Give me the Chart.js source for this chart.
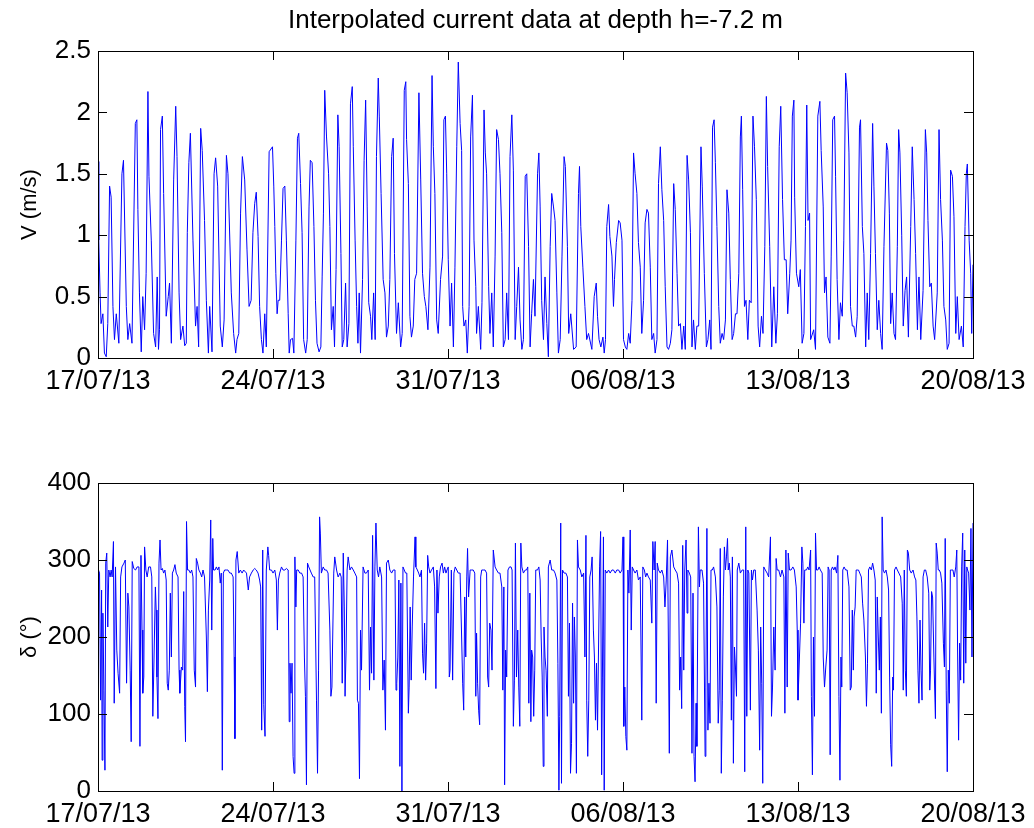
<!DOCTYPE html>
<html>
<head>
<meta charset="utf-8">
<title>Interpolated current data at depth h=-7.2 m</title>
<script src="https://cdn.jsdelivr.net/npm/chart.js@4.4.1/dist/chart.umd.min.js"></script>
<style>
  html, body { margin: 0; padding: 0; background: #fff; }
  #wrap { position: relative; width: 1034px; height: 828px; }
  .box { position: absolute; left: 0; width: 1034px; height: 414px; }
</style>
</head>
<body>
<div id="wrap">
  <div class="box" style="top:0"><canvas id="speedChart"></canvas></div>
  <div class="box" style="top:414px"><canvas id="dirChart"></canvas></div>
</div>
<script>
// days since 17/07/13, tick positions and their date labels
const tickDays = [0, 6.8, 13.6, 20.4, 27.2, 34];
const tickLabels = ["17/07/13", "24/07/13", "31/07/13", "06/08/13", "13/08/13", "20/08/13"];

// current speed V (m/s), [day, value]
const speedSamples = [
  [0.00,1.60],[0.03,0.96],[0.08,0.53],[0.12,0.28],[0.19,0.36],[0.25,0.04],[0.32,0.01],[0.38,0.28],[0.45,1.40],[0.51,1.31],
  [0.58,0.42],[0.64,0.15],[0.71,0.36],[0.81,0.12],[0.93,1.50],[0.99,1.61],[1.10,0.42],[1.16,0.15],[1.23,0.28],[1.32,0.12],
  [1.45,1.91],[1.51,1.94],[1.55,1.21],[1.61,0.53],[1.68,0.05],[1.74,0.50],[1.81,0.23],[1.87,0.69],[1.94,2.17],[1.98,1.48],
  [2.07,0.96],[2.16,0.20],[2.24,0.09],[2.30,0.66],[2.35,0.07],[2.39,0.23],[2.43,1.86],[2.50,1.97],[2.55,1.34],[2.65,0.34],
  [2.73,0.50],[2.78,0.61],[2.85,0.12],[2.94,1.45],[3.02,2.05],[3.07,1.64],[3.15,0.53],[3.21,0.15],[3.30,0.26],[3.37,0.10],
  [3.43,0.12],[3.47,1.02],[3.53,1.59],[3.59,1.83],[3.69,0.96],[3.79,0.26],[3.85,0.42],[3.91,0.09],[3.99,1.87],[4.05,1.69],
  [4.14,1.12],[4.21,0.47],[4.29,0.04],[4.34,0.42],[4.43,0.05],[4.51,1.50],[4.57,1.63],[4.65,1.40],[4.75,0.26],[4.83,0.09],
  [4.90,0.31],[4.99,1.65],[5.05,1.50],[5.18,0.53],[5.27,0.20],[5.35,0.04],[5.40,0.15],[5.47,0.20],[5.54,1.18],[5.61,1.64],
  [5.70,1.45],[5.79,0.88],[5.87,0.42],[5.95,0.47],[6.02,1.02],[6.09,1.26],[6.15,1.35],[6.22,0.99],[6.28,0.42],[6.35,0.15],
  [6.41,0.04],[6.48,0.36],[6.54,0.09],[6.65,1.68],[6.78,1.72],[6.83,1.40],[6.87,1.07],[6.91,0.69],[6.96,0.36],[7.00,0.47],
  [7.06,0.47],[7.13,0.96],[7.19,1.38],[7.26,1.40],[7.32,0.96],[7.39,0.36],[7.43,0.04],[7.48,0.15],[7.56,0.16],[7.61,0.04],
  [7.69,0.96],[7.75,1.79],[7.80,1.83],[7.87,1.42],[7.93,1.02],[7.99,0.15],[8.07,0.04],[8.13,0.15],[8.20,1.23],[8.25,1.61],
  [8.32,1.59],[8.39,1.07],[8.45,0.47],[8.51,0.12],[8.59,0.05],[8.66,0.09],[8.71,0.66],[8.76,1.18],[8.81,2.18],[8.88,1.80],
  [8.96,1.50],[9.01,1.07],[9.07,0.23],[9.14,0.42],[9.19,0.09],[9.25,0.72],[9.32,1.98],[9.37,1.72],[9.44,0.85],[9.49,0.09],
  [9.55,0.15],[9.62,0.61],[9.68,0.09],[9.75,0.28],[9.81,2.07],[9.88,2.21],[9.92,1.72],[9.99,0.96],[10.05,0.42],[10.10,0.12],
  [10.15,0.53],[10.20,0.04],[10.28,0.64],[10.34,1.61],[10.40,2.10],[10.46,1.23],[10.52,0.45],[10.59,0.34],[10.64,0.15],[10.71,0.53],
  [10.77,0.15],[10.82,1.64],[10.89,2.28],[10.93,1.97],[11.00,1.34],[11.08,0.64],[11.15,0.53],[11.21,0.17],[11.28,0.26],[11.34,0.64],
  [11.41,1.64],[11.47,1.79],[11.52,0.85],[11.60,0.20],[11.67,0.45],[11.76,0.09],[11.82,0.20],[11.90,2.18],[11.96,2.25],[11.99,1.78],
  [12.06,1.42],[12.12,0.34],[12.18,0.17],[12.25,0.26],[12.31,0.64],[12.38,0.69],[12.47,2.16],[12.54,1.45],[12.61,0.69],[12.68,0.50],
  [12.74,0.42],[12.82,0.23],[12.90,0.74],[12.98,2.30],[13.03,1.72],[13.09,1.34],[13.16,0.31],[13.22,0.20],[13.31,0.64],[13.39,0.83],
  [13.44,1.94],[13.50,1.97],[13.55,1.50],[13.61,0.80],[13.68,0.26],[13.74,0.61],[13.81,0.09],[13.87,0.74],[13.94,1.72],[14.00,2.41],
  [14.07,1.91],[14.13,1.69],[14.17,0.42],[14.22,0.26],[14.29,0.31],[14.35,0.04],[14.42,0.42],[14.48,1.80],[14.55,2.14],[14.61,0.96],
  [14.68,0.58],[14.71,0.20],[14.78,0.42],[14.87,0.07],[14.92,0.45],[15.00,2.02],[15.05,1.67],[15.10,1.50],[15.18,0.58],[15.23,0.20],
  [15.30,0.53],[15.36,0.09],[15.43,0.83],[15.49,1.86],[15.56,1.78],[15.62,1.50],[15.69,1.02],[15.75,0.09],[15.82,0.15],[15.88,0.53],
  [15.95,0.15],[16.01,1.64],[16.08,1.98],[16.14,1.53],[16.21,0.15],[16.27,0.42],[16.34,0.74],[16.40,0.31],[16.47,0.07],[16.53,0.15],
  [16.60,1.48],[16.66,1.50],[16.73,0.91],[16.79,0.09],[16.85,0.36],[16.92,0.64],[16.98,0.34],[17.08,1.50],[17.13,1.67],[17.18,1.23],
  [17.24,0.47],[17.31,0.15],[17.37,0.66],[17.44,0.28],[17.50,0.01],[17.57,0.91],[17.63,1.34],[17.70,1.23],[17.76,1.12],[17.83,0.53],
  [17.89,0.04],[17.96,0.15],[18.03,0.83],[18.11,1.64],[18.16,1.56],[18.24,0.91],[18.29,0.20],[18.37,0.36],[18.48,0.07],[18.58,0.09],
  [18.67,1.34],[18.71,1.56],[18.76,1.07],[18.84,0.74],[18.92,0.42],[18.99,0.15],[19.06,0.20],[19.19,0.07],[19.28,0.50],[19.36,0.61],
  [19.41,0.34],[19.47,0.15],[19.54,0.09],[19.62,0.17],[19.67,0.04],[19.72,0.15],[19.77,1.07],[19.84,1.25],[19.89,0.99],[19.97,0.83],
  [20.03,0.42],[20.07,0.64],[20.14,0.94],[20.23,1.12],[20.29,1.10],[20.36,0.96],[20.42,0.15],[20.49,0.09],[20.55,0.07],[20.62,0.20],
  [20.68,0.12],[20.75,0.47],[20.81,1.67],[20.87,1.50],[20.94,1.34],[21.00,0.94],[21.07,0.74],[21.13,0.20],[21.20,0.47],[21.26,1.10],
  [21.33,1.21],[21.39,1.18],[21.46,0.74],[21.52,0.15],[21.59,0.20],[21.65,0.04],[21.72,0.15],[21.78,1.42],[21.85,1.72],[21.91,1.37],
  [21.98,1.12],[22.04,0.58],[22.11,0.09],[22.17,0.07],[22.24,0.12],[22.30,0.23],[22.37,1.42],[22.43,1.21],[22.50,0.69],[22.56,0.26],
  [22.63,0.28],[22.69,0.07],[22.76,0.26],[22.82,0.07],[22.89,1.65],[22.95,1.45],[23.02,1.02],[23.08,0.09],[23.14,0.31],[23.21,0.07],
  [23.27,0.26],[23.34,0.26],[23.43,1.72],[23.48,1.40],[23.56,0.69],[23.64,0.09],[23.70,0.15],[23.77,0.31],[23.82,0.07],[23.88,1.88],
  [23.94,1.94],[23.99,1.59],[24.05,1.07],[24.12,0.42],[24.18,0.12],[24.25,0.20],[24.31,0.15],[24.38,0.31],[24.44,1.37],[24.51,1.18],
  [24.57,0.64],[24.64,0.15],[24.70,0.20],[24.77,0.36],[24.83,0.36],[24.90,0.69],[24.96,1.80],[25.00,1.97],[25.05,1.37],[25.12,0.42],
  [25.18,0.47],[25.25,0.15],[25.31,0.47],[25.38,0.45],[25.45,1.97],[25.51,1.72],[25.58,1.29],[25.65,0.26],[25.71,0.09],[25.78,0.34],
  [25.84,0.20],[25.91,0.91],[25.97,2.13],[26.02,1.56],[26.10,0.91],[26.18,0.09],[26.26,0.58],[26.34,0.12],[26.40,0.36],[26.47,1.72],
  [26.53,2.05],[26.60,1.29],[26.67,0.80],[26.74,0.80],[26.80,0.36],[26.88,0.69],[26.93,0.96],[26.98,1.97],[27.04,2.10],[27.07,1.31],
  [27.14,0.69],[27.23,0.58],[27.29,0.72],[27.36,0.12],[27.43,0.20],[27.49,1.07],[27.54,2.06],[27.59,1.12],[27.65,1.18],[27.69,0.15],
  [27.81,0.23],[27.88,0.07],[27.97,1.97],[28.05,2.09],[28.10,1.69],[28.18,1.23],[28.23,0.53],[28.29,0.66],[28.36,0.17],[28.44,0.12],
  [28.49,0.83],[28.55,1.94],[28.62,1.97],[28.66,1.48],[28.72,0.64],[28.79,0.15],[28.85,0.45],[28.92,0.34],[28.98,0.96],[29.05,2.32],
  [29.11,2.16],[29.18,1.67],[29.24,0.42],[29.31,0.26],[29.37,0.26],[29.44,0.17],[29.50,0.34],[29.59,1.88],[29.63,1.94],[29.70,1.07],
  [29.76,0.85],[29.83,0.09],[29.89,0.53],[29.95,0.15],[30.02,0.85],[30.10,1.91],[30.15,1.40],[30.21,0.85],[30.28,0.23],[30.34,0.47],
  [30.41,0.20],[30.47,0.07],[30.54,0.91],[30.64,1.75],[30.69,1.69],[30.75,1.18],[30.80,0.28],[30.86,0.53],[30.93,0.20],[30.99,0.15],
  [31.06,0.91],[31.11,1.86],[31.16,1.67],[31.23,1.00],[31.29,0.26],[31.36,0.55],[31.42,0.66],[31.49,0.17],[31.58,1.07],[31.64,1.72],
  [31.71,1.29],[31.77,0.85],[31.84,0.23],[31.90,0.66],[31.97,0.15],[32.06,0.55],[32.15,1.86],[32.20,1.67],[32.25,1.12],[32.32,0.58],
  [32.38,0.61],[32.45,0.26],[32.51,0.15],[32.61,0.53],[32.68,1.86],[32.74,1.29],[32.81,0.96],[32.87,0.42],[32.94,0.31],[33.00,0.07],
  [33.07,0.12],[33.13,1.53],[33.20,1.48],[33.26,1.15],[33.33,0.20],[33.39,0.50],[33.46,0.15],[33.55,0.26],[33.62,0.09],[33.69,1.07],
  [33.74,1.50],[33.78,1.58],[33.85,0.96],[33.91,0.69],[33.95,0.20],[34.00,0.76]
];

// current direction delta (degrees), [day, value]
const directionSamples = [
  [0.00,289],[0.06,283],[0.10,118],[0.14,261],[0.16,40],[0.19,231],[0.23,131],[0.27,27],[0.30,296],[0.34,309],
  [0.38,213],[0.42,287],[0.47,278],[0.51,287],[0.55,278],[0.60,324],[0.63,114],[0.68,291],[0.73,183],[0.78,153],
  [0.84,127],[0.88,278],[0.93,291],[1.01,296],[1.06,300],[1.11,140],[1.16,257],[1.20,239],[1.25,157],[1.29,64],
  [1.33,298],[1.39,289],[1.46,287],[1.52,291],[1.59,291],[1.63,58],[1.67,306],[1.71,209],[1.74,127],[1.78,148],
  [1.81,317],[1.86,287],[1.91,278],[1.97,291],[2.04,291],[2.09,278],[2.13,97],[2.17,161],[2.23,265],[2.26,235],
  [2.29,148],[2.33,94],[2.37,296],[2.41,326],[2.45,287],[2.50,289],[2.55,283],[2.60,287],[2.65,274],[2.69,140],
  [2.73,131],[2.77,157],[2.81,257],[2.85,174],[2.89,283],[2.94,287],[2.99,294],[3.04,283],[3.11,278],[3.15,157],
  [3.18,127],[3.24,161],[3.29,157],[3.33,259],[3.37,110],[3.40,64],[3.44,350],[3.48,287],[3.53,287],[3.59,283],
  [3.64,287],[3.69,278],[3.74,157],[3.79,135],[3.82,302],[3.87,296],[3.92,287],[3.98,283],[4.03,278],[4.08,287],
  [4.14,278],[4.21,200],[4.25,129],[4.29,235],[4.34,274],[4.38,352],[4.42,209],[4.46,328],[4.49,287],[4.55,287],
  [4.60,291],[4.65,287],[4.70,291],[4.75,270],[4.79,283],[4.83,27],[4.87,283],[4.92,287],[4.99,287],[5.05,287],
  [5.12,283],[5.18,283],[5.25,278],[5.29,174],[5.32,68],[5.36,300],[5.41,311],[5.47,283],[5.53,287],[5.60,283],
  [5.66,287],[5.77,283],[5.84,261],[5.89,278],[5.96,283],[6.03,287],[6.09,289],[6.15,287],[6.22,283],[6.28,274],
  [6.32,265],[6.36,79],[6.40,313],[6.44,112],[6.49,71],[6.54,287],[6.60,317],[6.63,306],[6.67,287],[6.74,287],
  [6.80,283],[6.87,287],[6.93,274],[6.97,209],[7.01,274],[7.06,283],[7.13,291],[7.19,287],[7.26,287],[7.32,289],
  [7.39,287],[7.43,90],[7.46,166],[7.50,127],[7.54,166],[7.58,45],[7.62,23],[7.65,304],[7.69,239],[7.72,287],
  [7.78,287],[7.84,283],[7.91,283],[7.97,278],[8.02,174],[8.06,123],[8.10,8],[8.14,296],[8.19,291],[8.24,287],
  [8.29,283],[8.36,278],[8.42,278],[8.49,118],[8.53,23],[8.57,157],[8.61,356],[8.64,335],[8.68,283],[8.75,291],
  [8.81,287],[8.88,287],[8.94,283],[9.01,209],[9.05,123],[9.09,135],[9.12,200],[9.16,283],[9.20,304],[9.27,287],
  [9.33,278],[9.40,283],[9.45,278],[9.49,140],[9.53,309],[9.57,239],[9.60,123],[9.64,183],[9.68,287],[9.72,304],
  [9.79,287],[9.85,291],[9.92,287],[9.98,283],[10.05,278],[10.08,118],[10.12,114],[10.16,16],[10.20,209],[10.24,157],
  [10.30,291],[10.37,283],[10.43,283],[10.50,287],[10.55,131],[10.59,213],[10.63,153],[10.67,332],[10.72,144],[10.76,291],
  [10.80,348],[10.85,287],[10.90,278],[10.95,291],[11.02,278],[11.07,131],[11.12,170],[11.17,79],[11.21,296],[11.28,300],
  [11.34,287],[11.41,283],[11.47,287],[11.54,287],[11.58,131],[11.61,140],[11.65,174],[11.69,274],[11.73,32],[11.77,270],
  [11.81,0],[11.85,291],[11.90,287],[11.95,283],[12.00,283],[12.06,101],[12.09,135],[12.13,239],[12.17,144],[12.21,213],
  [12.26,278],[12.32,330],[12.35,291],[12.41,287],[12.46,283],[12.51,278],[12.57,287],[12.61,179],[12.65,153],[12.69,218],
  [12.73,144],[12.77,192],[12.81,306],[12.85,291],[12.90,283],[12.96,287],[13.03,291],[13.08,265],[13.13,133],[13.17,287],
  [13.21,231],[13.26,278],[13.31,291],[13.37,296],[13.42,283],[13.47,291],[13.52,283],[13.56,287],[13.61,291],[13.65,148],
  [13.68,157],[13.73,287],[13.78,144],[13.83,283],[13.88,291],[13.94,287],[14.00,283],[14.07,283],[14.13,200],[14.17,140],
  [14.21,105],[14.25,252],[14.29,174],[14.33,278],[14.36,315],[14.40,252],[14.46,287],[14.52,287],[14.58,287],[14.64,283],
  [14.68,123],[14.71,205],[14.75,140],[14.79,105],[14.83,86],[14.87,278],[14.91,287],[14.97,287],[15.04,287],[15.10,283],
  [15.14,148],[15.18,135],[15.22,218],[15.27,209],[15.31,157],[15.36,313],[15.43,291],[15.49,287],[15.56,283],[15.62,283],
  [15.69,265],[15.73,131],[15.77,265],[15.80,8],[15.84,183],[15.88,148],[15.93,287],[15.99,291],[16.05,291],[16.09,287],
  [16.14,84],[16.18,144],[16.22,322],[16.26,148],[16.31,209],[16.35,135],[16.39,84],[16.43,322],[16.47,291],[16.53,283],
  [16.60,287],[16.65,287],[16.70,291],[16.74,114],[16.78,257],[16.82,90],[16.85,183],[16.89,174],[16.93,97],[16.97,157],
  [17.01,287],[17.08,287],[17.13,291],[17.18,274],[17.22,200],[17.26,148],[17.30,32],[17.33,213],[17.37,174],[17.41,157],
  [17.46,97],[17.50,291],[17.57,300],[17.63,287],[17.70,287],[17.76,283],[17.83,274],[17.87,166],[17.91,1],[17.94,97],
  [17.98,348],[18.01,10],[18.05,287],[18.11,283],[18.18,283],[18.24,278],[18.28,123],[18.32,218],[18.36,23],[18.40,62],
  [18.44,244],[18.48,114],[18.51,226],[18.55,174],[18.59,23],[18.63,326],[18.67,291],[18.74,287],[18.80,278],[18.87,283],
  [18.92,174],[18.96,332],[18.99,118],[19.03,45],[19.07,118],[19.11,278],[19.16,287],[19.20,304],[19.25,209],[19.29,174],
  [19.33,92],[19.37,166],[19.41,79],[19.45,187],[19.49,291],[19.53,337],[19.57,21],[19.60,148],[19.64,330],[19.67,1],
  [19.71,287],[19.77,283],[19.84,287],[19.90,283],[19.97,287],[20.03,287],[20.10,283],[20.16,287],[20.23,287],[20.29,283],
  [20.36,287],[20.40,330],[20.43,84],[20.47,135],[20.51,71],[20.55,53],[20.59,287],[20.63,257],[20.68,339],[20.72,209],
  [20.76,291],[20.81,287],[20.87,283],[20.94,287],[21.00,274],[21.07,278],[21.13,92],[21.17,291],[21.23,287],[21.28,278],
  [21.33,283],[21.39,278],[21.46,274],[21.52,218],[21.56,324],[21.61,287],[21.65,324],[21.69,114],[21.73,296],[21.78,287],
  [21.85,283],[21.91,287],[21.98,278],[22.03,239],[22.08,274],[22.13,326],[22.20,49],[22.24,304],[22.30,313],[22.37,291],
  [22.43,287],[22.50,283],[22.56,270],[22.60,131],[22.64,174],[22.68,107],[22.72,319],[22.76,157],[22.80,287],[22.85,326],
  [22.89,231],[22.92,287],[22.98,283],[23.03,278],[23.08,49],[23.12,257],[23.16,45],[23.20,12],[23.24,114],[23.27,58],
  [23.33,343],[23.37,265],[23.40,287],[23.47,287],[23.53,270],[23.59,45],[23.62,135],[23.66,341],[23.70,79],[23.74,140],
  [23.78,88],[23.82,287],[23.87,287],[23.92,291],[23.99,278],[24.05,239],[24.10,88],[24.14,131],[24.18,315],[24.22,23],
  [24.26,118],[24.30,252],[24.34,317],[24.38,287],[24.42,304],[24.46,328],[24.49,287],[24.53,296],[24.57,278],[24.61,92],
  [24.65,304],[24.69,36],[24.73,187],[24.77,161],[24.81,123],[24.84,287],[24.90,296],[24.96,283],[25.03,287],[25.09,287],
  [25.13,25],[25.17,343],[25.21,97],[25.25,287],[25.29,283],[25.35,105],[25.39,287],[25.43,274],[25.48,287],[25.54,287],
  [25.61,235],[25.66,183],[25.71,53],[25.75,213],[25.79,140],[25.83,10],[25.87,291],[25.93,287],[26.00,283],[26.06,278],
  [26.13,330],[26.17,97],[26.21,135],[26.26,213],[26.31,157],[26.35,302],[26.39,287],[26.45,287],[26.52,278],[26.58,287],
  [26.65,278],[26.69,101],[26.73,313],[26.78,135],[26.82,309],[26.87,287],[26.93,287],[27.00,291],[27.06,287],[27.13,265],
  [27.17,209],[27.20,118],[27.24,157],[27.30,218],[27.35,317],[27.39,296],[27.43,218],[27.46,287],[27.53,287],[27.58,291],
  [27.63,287],[27.69,313],[27.72,123],[27.76,21],[27.80,200],[27.84,97],[27.88,335],[27.92,287],[27.97,287],[28.02,291],
  [28.07,287],[28.14,283],[28.18,174],[28.23,135],[28.28,161],[28.33,183],[28.37,291],[28.41,287],[28.45,47],[28.49,287],
  [28.54,291],[28.59,287],[28.64,291],[28.70,283],[28.75,306],[28.79,123],[28.83,14],[28.87,174],[28.90,135],[28.94,287],
  [28.99,291],[29.05,287],[29.11,287],[29.18,265],[29.23,131],[29.27,135],[29.31,235],[29.35,157],[29.38,226],[29.42,239],
  [29.46,287],[29.50,287],[29.55,287],[29.60,283],[29.66,278],[29.71,244],[29.76,222],[29.82,174],[29.86,110],[29.90,166],
  [29.94,287],[29.99,291],[30.05,287],[30.10,296],[30.15,287],[30.20,274],[30.24,127],[30.28,252],[30.32,200],[30.36,157],
  [30.40,226],[30.44,101],[30.47,356],[30.51,287],[30.56,283],[30.62,287],[30.67,278],[30.72,261],[30.76,148],[30.80,60],
  [30.84,32],[30.88,148],[30.91,131],[30.95,287],[31.01,291],[31.06,287],[31.12,283],[31.19,278],[31.25,244],[31.29,131],
  [31.33,287],[31.37,157],[31.41,123],[31.45,313],[31.49,309],[31.54,287],[31.60,283],[31.67,287],[31.73,278],[31.78,274],
  [31.82,226],[31.86,157],[31.90,114],[31.94,222],[31.98,157],[32.02,118],[32.06,278],[32.11,287],[32.16,287],[32.22,278],
  [32.28,257],[32.32,131],[32.35,157],[32.39,259],[32.43,252],[32.48,174],[32.54,94],[32.57,322],[32.61,309],[32.65,287],
  [32.69,287],[32.74,283],[32.79,270],[32.85,192],[32.89,161],[32.92,328],[32.96,131],[33.00,25],[33.04,157],[33.08,114],
  [33.12,287],[33.17,287],[33.22,287],[33.27,278],[33.33,291],[33.37,313],[33.40,187],[33.44,66],[33.48,192],[33.52,144],
  [33.56,291],[33.60,335],[33.64,140],[33.68,313],[33.72,166],[33.76,291],[33.79,287],[33.83,283],[33.88,235],[33.92,341],
  [33.96,174],[34.00,348]
];

const FONT = "'Liberation Sans', Arial, Helvetica, sans-serif";
const TITLE = 'Interpolated current data at depth h=-7.2 m';

// black box round the plot area with inward tick marks on all four sides
const axesBox = {
  id: 'axesBox',
  afterDraw(chart) {
    const { ctx, chartArea: a, scales } = chart;
    const len = 9;
    const snap = v => Math.round(v) + 0.5;
    ctx.save();
    ctx.strokeStyle = '#000';
    ctx.lineWidth = 1;
    ctx.beginPath();
    scales.x.ticks.forEach(t => {
      const px = snap(scales.x.getPixelForValue(t.value));
      ctx.moveTo(px, a.bottom); ctx.lineTo(px, a.bottom - len);
      ctx.moveTo(px, a.top); ctx.lineTo(px, a.top + len);
    });
    scales.y.ticks.forEach(t => {
      const py = snap(scales.y.getPixelForValue(t.value));
      ctx.moveTo(a.left, py); ctx.lineTo(a.left + len, py);
      ctx.moveTo(a.right, py); ctx.lineTo(a.right - len, py);
    });
    ctx.stroke();
    ctx.strokeRect(snap(a.left), snap(a.top), Math.round(a.width), Math.round(a.height));
    ctx.restore();
  }
};

// title centred over the plot box (not over the whole canvas)
const boxTitle = {
  id: 'boxTitle',
  afterDraw(chart, args, o) {
    if (!o.text) return;
    const { ctx, chartArea: a } = chart;
    ctx.save();
    ctx.fillStyle = '#000';
    ctx.font = `${o.size}px ${FONT}`;
    ctx.textAlign = 'center';
    ctx.textBaseline = 'middle';
    ctx.fillText(o.text, (a.left + a.right) / 2, o.y);
    ctx.restore();
  }
};

function makeChart(id, samples, yMax, yStep, yTitle, opts) {
  return new Chart(document.getElementById(id), {
    type: 'line',
    data: {
      datasets: [{
        data: samples.map(p => ({ x: p[0], y: p[1] })),
        borderColor: '#0000ff',
        borderWidth: 1,
        pointRadius: 0,
        tension: 0,
        fill: false
      }]
    },
    options: {
      responsive: true,
      maintainAspectRatio: false,
      animation: false,
      layout: { padding: { top: opts.padTop, right: 61, bottom: 0, left: 0 } },
      plugins: {
        legend: { display: false },
        tooltip: { enabled: false },
        title: { display: false },
        boxTitle: { text: opts.title, size: 26, y: 21 }
      },
      scales: {
        x: {
          type: 'linear',
          min: 0,
          max: 34,
          grid: { display: false, drawTicks: false },
          border: { display: false },
          afterBuildTicks: s => { s.ticks = tickDays.map(v => ({ value: v })); },
          afterFit: s => { s.height = opts.xHeight; s.paddingLeft = 0; s.paddingRight = 0; },
          ticks: {
            padding: 7,
            maxRotation: 0,
            autoSkip: false,
            color: '#000',
            font: { family: FONT, size: 27 },
            callback: (v, i) => tickLabels[i]
          }
        },
        y: {
          min: 0,
          max: yMax,
          grid: { display: false, drawTicks: false },
          border: { display: false },
          afterFit: s => { s.width = 98; s.paddingTop = 0; s.paddingBottom = 0; },
          ticks: {
            stepSize: yStep,
            padding: 7,
            color: '#000',
            font: { family: FONT, size: 26 },
            callback: v => String(Math.round(v * 10) / 10)
          },
          title: {
            display: true,
            text: yTitle,
            color: '#000',
            font: { family: FONT, size: 22 },
            padding: { top: 17, bottom: 0 }
          }
        }
      }
    },
    plugins: [axesBox, boxTitle]
  });
}

makeChart('speedChart', speedSamples, 2.5, 0.5, 'V (m/s)',
  { padTop: 51, xHeight: 56, title: TITLE });
makeChart('dirChart', directionSamples, 400, 100, 'δ (°)',
  { padTop: 69, xHeight: 37, title: '' });
</script>
</body>
</html>
